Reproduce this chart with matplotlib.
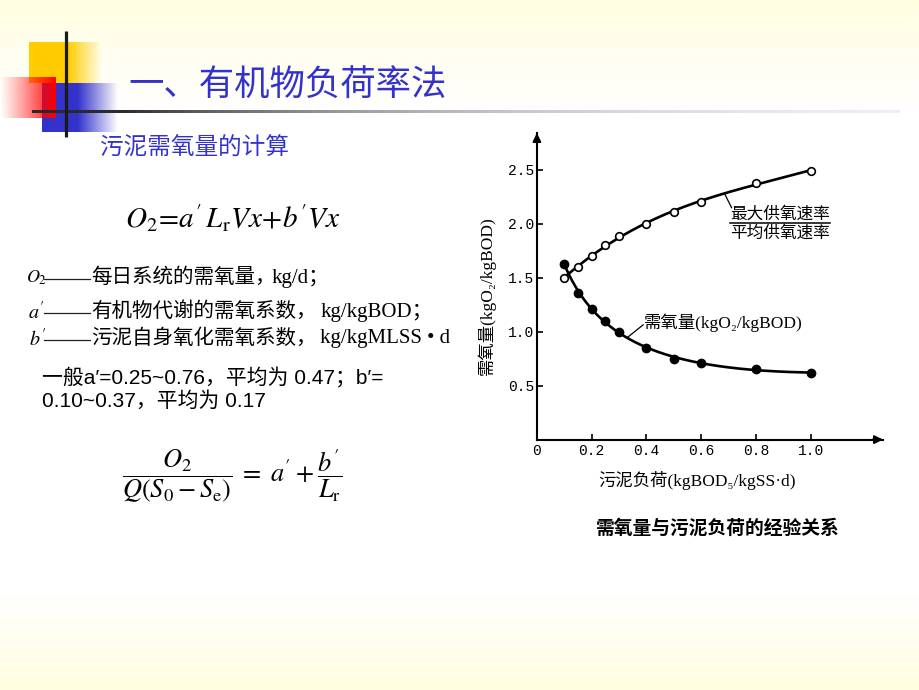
import numpy as np
import matplotlib
matplotlib.use('Agg')
import matplotlib.pyplot as plt
from matplotlib.colors import to_rgb

# ---------------- data ----------------
load_open = [0.10, 0.15, 0.20, 0.25, 0.30, 0.40, 0.50, 0.60, 0.80, 1.00]
ratio_vals = [1.50, 1.60, 1.70, 1.80, 1.89, 2.00, 2.11, 2.20, 2.38, 2.49]
load_fill = [0.10, 0.15, 0.20, 0.25, 0.30, 0.40, 0.50, 0.60, 0.80, 1.00]
demand_vals = [1.63, 1.36, 1.21, 1.10, 1.00, 0.85, 0.75, 0.71, 0.65, 0.62]
x_ticks = [0, 0.2, 0.4, 0.6, 0.8, 1.0]
x_tick_labels = ['0', '0.2', '0.4', '0.6', '0.8', '1.0']
y_ticks = [0.5, 1.0, 1.5, 2.0, 2.5]
y_tick_labels = ['0.5', '1.0', '1.5', '2.0', '2.5']

plt.rcParams['mathtext.fontset'] = 'stix'
SERIF = ['Liberation Serif', 'Noto Sans CJK SC', 'DejaVu Sans']
SANS = ['Liberation Sans', 'Noto Sans CJK SC', 'DejaVu Sans']
CJK = ['Noto Sans CJK SC', 'DejaVu Sans']
BLUE = '#3333CC'

W, H = 920, 690
fig = plt.figure(figsize=(9.2, 6.9), dpi=100)
bg = fig.add_axes([0, 0, 1, 1])
bg.set_xlim(0, W)
bg.set_ylim(H, 0)
bg.axis('off')

# background gradient (pale yellow top and bottom)
yy = np.arange(H)
f = np.maximum(np.clip(1 - yy / 110.0, 0, 1), np.clip((yy - 595) / 95.0, 0, 1))
img = np.ones((H, 1, 3))
img[:, 0, 2] = 1 - 0.12 * f
img[:, 0, 1] = 1 - 0.004 * f
bg.imshow(img, extent=[0, W, H, 0], aspect='auto', zorder=0)


def grad_rect(x0, x1, y0, y1, color, alpha_fn, z):
    n = 300
    xs = np.linspace(x0, x1, n)
    rgba = np.zeros((1, n, 4))
    rgba[..., :3] = to_rgb(color)
    rgba[0, :, 3] = np.clip(alpha_fn(xs), 0, 1)
    bg.imshow(rgba, extent=[x0, x1, y1, y0], aspect='auto', zorder=z,
              interpolation='bilinear')


grad_rect(29, 102, 42, 83, '#FFCC00', lambda x: 1 - (x - 68) / 34.0 * (x > 68), 1)
grad_rect(42, 118, 83, 132, '#3333CC', lambda x: 1 - (x - 78) / 40.0 * (x > 78), 2)
grad_rect(0, 56, 77, 118, '#FF0000', lambda x: (x / 56.0) ** 1.1, 3)
grad_rect(32, 900, 110.5, 113.5, '#2a2a2a',
          lambda x: np.where(x < 120, 1.0, np.exp(-(x - 120) / 300.0)), 4)
bg.plot([65.7, 65.7], [31, 137], color='#1a1a1a', lw=2.3, zorder=5,
        solid_capstyle='butt')

# ---------------- slide texts ----------------
bg.text(128, 86, '一、有机物负荷率法', fontsize=25.5, color=BLUE, family=CJK,
        ha='left', va='center', zorder=6)
bg.text(100, 147, '污泥需氧量的计算', fontsize=17, color=BLUE, family=CJK,
        ha='left', va='center', zorder=6)

bg.text(125, 218, r"$O_2\!=\!a'\,L_{\rm r}Vx\!+\!b'Vx$", fontsize=21,
        ha='left', va='center', zorder=6)

def_rows = [
    (278, r"$O_2$", 26, 13, '每日系统的需氧量，', 272, 'kg/d；'),
    (312, r"$a'$", 28, 14.5, '有机物代谢的需氧系数，', 321, 'kg/kgBOD；'),
    (339, r"$b'$", 29, 14.5, '污泥自身氧化需氧系数，', 320, 'kg/kgMLSS • d'),
]
for y, lab, lx, lfs, txt, tx, unit in def_rows:
    bg.text(lx, y, lab, fontsize=lfs, ha='left', va='center', zorder=6)
    bg.plot([44, 90], [y + 1, y + 1], color='#222222', lw=0.9, zorder=6)
    bg.text(91, y, txt, fontsize=14.8, family=SERIF, ha='left', va='center',
            zorder=6)
    bg.text(tx, y, unit, fontsize=15, family=SERIF, ha='left', va='center',
            zorder=6)

bg.text(42, 378, '一般a′=0.25~0.76，平均为 0.47；b′=', fontsize=15,
        family=SANS, ha='left', va='center', zorder=6)
bg.text(42, 401, '0.10~0.37，平均为 0.17', fontsize=15, family=SANS,
        ha='left', va='center', zorder=6)

bg.text(122, 477,
        r"$\dfrac{O_2}{Q(S_0 - S_{\rm e})}\;=\;a'+\dfrac{b'}{L_{\rm r}}$",
        fontsize=19, ha='left', va='center', zorder=6)

# ---------------- chart ----------------
x0p, y0p, x1p, y1p = 536.9, 439.6, 883.0, 133.0
ax = fig.add_axes([x0p / W, 1 - y0p / H, (x1p - x0p) / W, (y0p - y1p) / H])
ax.set_xlim(0, 1.264)
ax.set_ylim(0, 2.84)
ax.patch.set_alpha(0)
for s in ['top', 'right']:
    ax.spines[s].set_visible(False)
for s in ['left', 'bottom']:
    ax.spines[s].set_linewidth(1.5)
ax.set_xticks(x_ticks)
ax.set_xticklabels(x_tick_labels)
ax.set_yticks(y_ticks)
ax.set_yticklabels(y_tick_labels)
ax.tick_params(direction='in', length=4, width=1.2, pad=3, labelsize=10.5)
for lab in ax.get_xticklabels() + ax.get_yticklabels():
    lab.set_family('Liberation Mono')
ax.tick_params(axis='y', pad=2)

ax.annotate('', xy=(1.0, 0), xytext=(0.97, 0), xycoords='axes fraction',
            arrowprops=dict(arrowstyle='-|>', color='k', lw=1.5,
                            mutation_scale=12, shrinkA=0, shrinkB=0))
ax.annotate('', xy=(0, 1.0), xytext=(0, 0.97), xycoords='axes fraction',
            arrowprops=dict(arrowstyle='-|>', color='k', lw=1.5,
                            mutation_scale=12, shrinkA=0, shrinkB=0))

xo = np.array(load_open)
yo = np.array(ratio_vals)
xf = np.array(load_fill)
yf = np.array(demand_vals)
xs = np.linspace(0.1, 1.0, 200)
cu = np.polyfit(xo, yo, 3)
cl = np.polyfit(np.log(xf), yf, 3)
ax.plot(xs, np.polyval(cu, xs), color='k', lw=1.9, zorder=2)
ax.plot(xs, np.polyval(cl, np.log(xs)), color='k', lw=1.9, zorder=2)
ax.plot(xo, yo, 'o', ms=5.5, mfc='white', mec='k', mew=1.2, zorder=3)
ax.plot(xf, yf, 'o', ms=6, mfc='k', mec='k', zorder=3)

# annotations
ax.plot([0.687, 0.711], [2.27, 2.148], color='k', lw=0.9)
ax.plot([0.333, 0.388], [0.951, 1.063], color='k', lw=0.9)
ax.text(0.888, 2.083, '最大供氧速率', fontsize=12, family=CJK, ha='center',
        va='center')
ax.text(0.888, 1.916, '平均供氧速率', fontsize=12, family=CJK, ha='center',
        va='center')
ax.plot([0.705, 1.07], [2.005, 2.005], color='k', lw=1.1)
ax.text(0.39, 1.085, '需氧量(kgO₂/kgBOD)', fontsize=12.5, family=SERIF,
        ha='left', va='center')

bg.text(487, 296, '需氧量(kgO₂/kgBOD)', rotation=90, fontsize=12.5,
        family=SERIF, ha='center', va='center', zorder=6)
bg.text(697, 480, '污泥负荷(kgBOD₅/kgSS·d)', fontsize=12.5, family=SERIF,
        ha='center', va='center', zorder=6)
bg.text(718, 528, '需氧量与污泥负荷的经验关系', fontsize=13.5, family=CJK,
        weight='bold', ha='center', va='center', zorder=6)

fig.savefig('out.png', dpi=100)
